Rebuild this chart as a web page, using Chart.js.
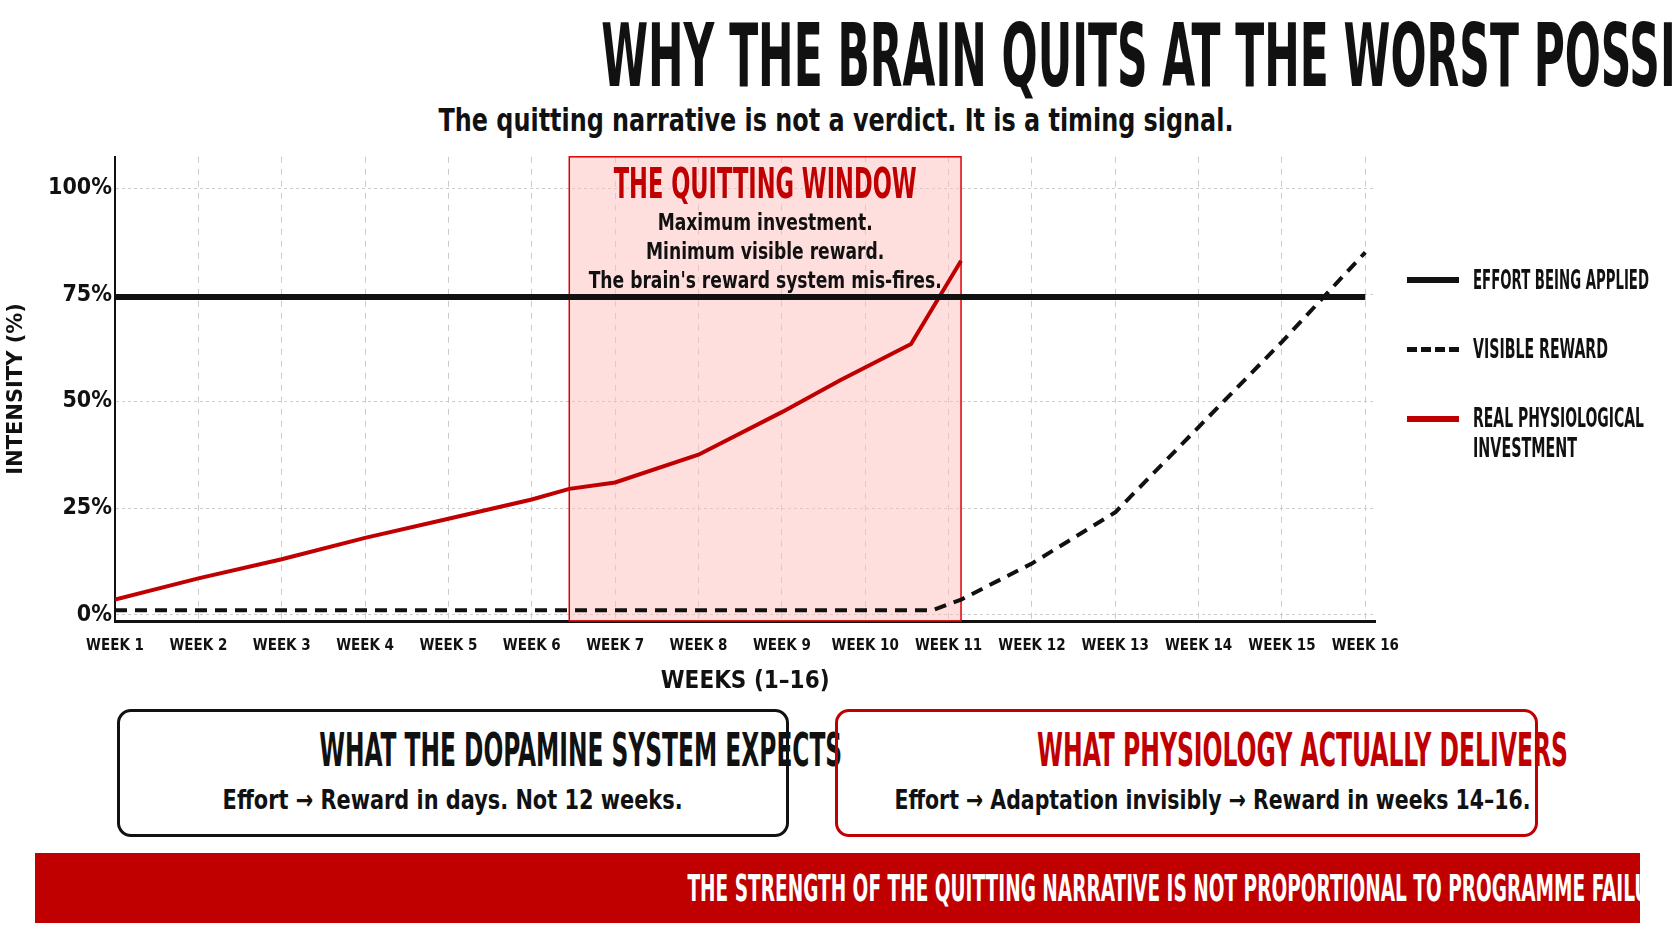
<!DOCTYPE html>
<html><head><meta charset="utf-8">
<script src="https://cdn.jsdelivr.net/npm/chart.js@4"></script>
<style>
body{margin:0;width:1672px;height:941px;background:#fff;position:relative;overflow:hidden;font-family:"DejaVu Sans Condensed","DejaVu Sans",sans-serif}
.abs{position:absolute}
.row{position:absolute;text-align:center;white-space:nowrap}
.fit{display:inline-block;white-space:nowrap;transform-origin:center center}
.lfit{display:inline-block;white-space:nowrap;transform-origin:left center}
.box{border:3px solid #111;border-radius:14px;box-sizing:border-box}
#banner{left:35px;top:853px;width:1605px;height:70px;background:#c00000}
.leg{font-weight:bold;font-size:26px;color:#111;line-height:30px}
.sw{position:absolute;left:1407px;width:52px}
</style></head><body>
<div class="row" style="left:0;width:1672px;top:8px;line-height:96px"><span class="fit" data-w="1392" style="font-weight:bold;font-size:88px;color:#111">WHY THE BRAIN QUITS AT THE WORST POSSIBLE MOMENT</span></div>
<div class="row" style="left:0;width:1672px;top:98px;line-height:44px"><span class="fit" data-w="795" style="font-weight:bold;font-size:32px;color:#111">The quitting narrative is not a verdict. It is a timing signal.</span></div>
<div class="abs" style="left:0;top:140px;width:1415px;height:560px"><canvas id="c"></canvas></div>
<div class="sw abs" style="top:277px;border-top:6px solid #111"></div>
<div class="abs leg" style="left:1473px;top:265px"><span class="lfit" data-w="176">EFFORT BEING APPLIED</span></div>
<div class="sw abs" style="top:347px;border-top:5px dashed #111"></div>
<div class="abs leg" style="left:1473px;top:334px"><span class="lfit" data-w="135">VISIBLE REWARD</span></div>
<div class="sw abs" style="top:416px;border-top:6px solid #c00000"></div>
<div class="abs leg" style="left:1473px;top:403px"><span class="lfit" data-w="171">REAL PHYSIOLOGICAL</span><br><span class="lfit" data-w="104">INVESTMENT</span></div>
<div class="abs box" style="left:117px;top:709px;width:672px;height:128px"></div>
<div class="row" style="left:117px;width:672px;top:720px;line-height:60px"><span class="fit" data-w="523" style="font-weight:bold;font-size:46px;color:#111">WHAT THE DOPAMINE SYSTEM EXPECTS</span></div>
<div class="row" style="left:117px;width:672px;top:782px;line-height:36px"><span class="fit" data-w="460" style="font-weight:bold;font-size:27px;color:#111">Effort → Reward in days. Not 12 weeks.</span></div>
<div class="abs box" style="left:835px;top:709px;width:703px;height:128px;border-color:#c00000"></div>
<div class="row" style="left:835px;width:703px;top:720px;line-height:60px"><span class="fit" data-w="531" style="font-weight:bold;font-size:46px;color:#c00000">WHAT PHYSIOLOGY ACTUALLY DELIVERS</span></div>
<div class="row" style="left:835px;width:703px;top:782px;line-height:36px"><span class="fit" data-w="636" style="font-weight:bold;font-size:27px;color:#111">Effort → Adaptation invisibly → Reward in weeks 14–16.</span></div>
<div id="banner" class="abs"></div>
<div class="row" style="left:35px;width:1605px;top:853px;line-height:70px"><span class="fit" data-w="1546" style="font-weight:bold;font-size:38px;color:#fff">THE STRENGTH OF THE QUITTING NARRATIVE IS NOT PROPORTIONAL TO PROGRAMME FAILURE. IT IS PROPORTIONAL TO THE DEPTH OF THE VALLEY.</span></div>
<script>
document.querySelectorAll('.fit,.lfit').forEach(e=>{const w=e.getBoundingClientRect().width;e.style.transform='scaleX('+(+e.dataset.w/w)+')';});
const weekLabels=["WEEK 1","WEEK 2","WEEK 3","WEEK 4","WEEK 5","WEEK 6","WEEK 7","WEEK 8","WEEK 9","WEEK 10","WEEK 11","WEEK 12","WEEK 13","WEEK 14","WEEK 15","WEEK 16"];
const yTicks=[0,25,50,75,100];
const effortX=[1,16], effortY=[74.5,74.5];
const rewardX=[1,2,3,4,5,6,7,8,9,10,10.8,11.15,12,13,14,15,16];
const rewardY=[1,1,1,1,1,1,1,1,1,1,1,3.5,12,24,44,64,85];
const investX=[1,2,3,4,5,6,6.45,7,8,9,9.7,10.55,11.15];
const investY=[3.5,8.5,13,18,22.5,27,29.5,31,37.5,47.5,55,63.5,83];
const windowRange=[6.45,11.15];
const windowTitle="THE QUITTING WINDOW";
const windowLines=["Maximum investment.","Minimum visible reward.","The brain's reward system mis-fires."];
const pts=(xs,ys)=>xs.map((x,i)=>({x,y:ys[i]}));
const NF='"DejaVu Sans Condensed","DejaVu Sans",sans-serif';
function fitText(ctx,t,x,y,w){const n=ctx.measureText(t).width;ctx.save();ctx.translate(x,y);ctx.scale(w/n,1);ctx.fillText(t,0,0);ctx.restore();}
const windowPlugin={id:'win',beforeDatasetsDraw(ch){const {ctx,chartArea:a,scales:{x}}=ch;const l=x.getPixelForValue(windowRange[0]),r=x.getPixelForValue(windowRange[1]);
ctx.save();ctx.fillStyle='rgba(255,190,190,0.5)';ctx.fillRect(l,a.top,r-l,a.bottom-a.top);ctx.strokeStyle='#e00000';ctx.lineWidth=1.5;ctx.strokeRect(l,a.top,r-l,a.bottom-a.top);
const c=(l+r)/2;ctx.textAlign='center';ctx.textBaseline='middle';ctx.fillStyle='#c00000';ctx.font='bold 42px '+NF;fitText(ctx,windowTitle,c,a.top+30,303);
ctx.fillStyle='#111';ctx.font='bold 23px '+NF;const k=353/ctx.measureText(windowLines[2]).width;
windowLines.forEach((t,i)=>fitText(ctx,t,c,a.top+67+i*29,ctx.measureText(t).width*k));ctx.restore();}};
new Chart(document.getElementById('c'),{type:'line',
data:{datasets:[
{data:pts(effortX,effortY),borderColor:'#111',borderWidth:6,pointRadius:0},
{data:pts(rewardX,rewardY),borderColor:'#111',borderWidth:4,borderDash:[12,8],pointRadius:0},
{data:pts(investX,investY),borderColor:'#c00000',borderWidth:4,pointRadius:0}]},
options:{responsive:true,maintainAspectRatio:false,animation:false,layout:{padding:{top:12,right:6}},
plugins:{legend:{display:false},tooltip:{enabled:false}},
scales:{x:{type:'linear',min:1,max:16.12,afterBuildTicks:s=>{s.ticks=weekLabels.map((_,i)=>({value:i+1}));},
afterFit:s=>{s.height=79},
ticks:{autoSkip:false,maxRotation:0,padding:16,color:'#111',font:{family:NF,weight:'bold',size:15},callback:v=>weekLabels[v-1]},
grid:{color:'#ccc',drawTicks:false},border:{color:'#111',width:3,dash:[6,6]},
title:{display:true,text:'WEEKS (1–16)',color:'#111',font:{family:NF,weight:'bold',size:24},padding:{top:4}}},
y:{min:-1.5,max:107.4,afterBuildTicks:s=>{s.ticks=yTicks.map(v=>({value:v}));},afterFit:s=>{s.width=115},
ticks:{color:'#111',font:{family:NF,weight:'bold',size:23},callback:v=>v+'%'},
grid:{color:'#ccc',drawTicks:false},border:{color:'#111',width:2,dash:[3,3]},
title:{display:true,text:'INTENSITY (%)',color:'#111',font:{family:'DejaVu Sans',weight:'bold',size:21}}}}},
plugins:[windowPlugin]});
</script></body></html>
